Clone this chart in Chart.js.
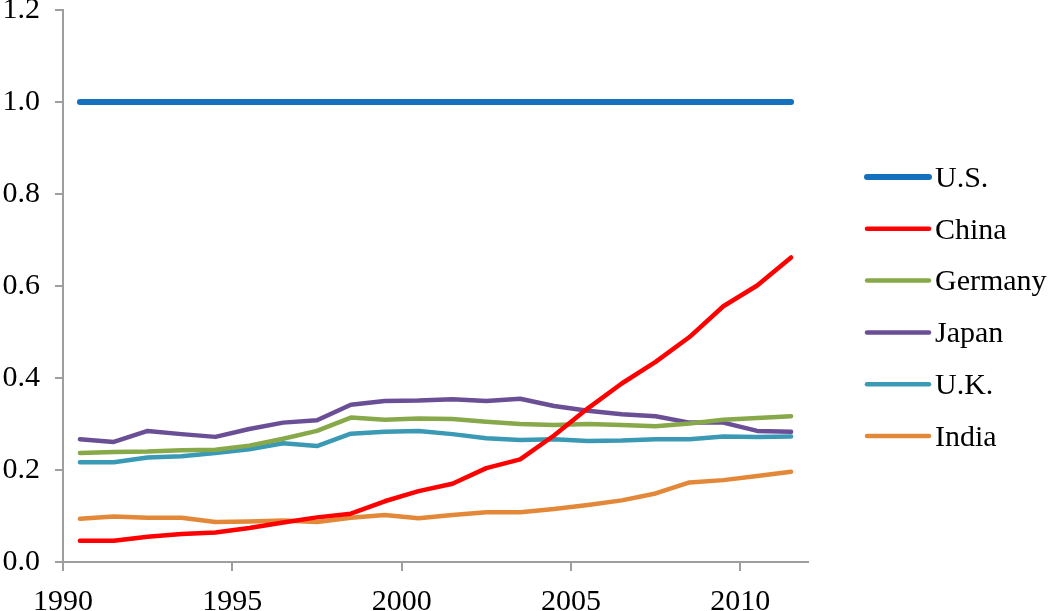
<!DOCTYPE html>
<html>
<head>
<meta charset="utf-8">
<script src="https://cdn.jsdelivr.net/npm/chart.js@4/dist/chart.umd.min.js"></script>
<style>
  html, body { margin: 0; padding: 0; background: #fff; }
  #wrap { position: relative; width: 1050px; height: 611px; }
</style>
</head>
<body>
<div id="wrap"><canvas id="chart"></canvas></div>
<script>
const years = [1990, 1991, 1992, 1993, 1994, 1995, 1996, 1997, 1998, 1999, 2000,
  2001, 2002, 2003, 2004, 2005, 2006, 2007, 2008, 2009, 2010, 2011];

const usValues = [1, 1, 1, 1, 1, 1, 1, 1, 1, 1, 1, 1, 1, 1, 1, 1, 1, 1, 1, 1, 1, 1];
const chinaValues = [0.046, 0.046, 0.055, 0.061, 0.064, 0.074, 0.086, 0.097, 0.105, 0.132, 0.154,
  0.170, 0.204, 0.223, 0.275, 0.334, 0.388, 0.435, 0.489, 0.556, 0.601, 0.662];
const germanyValues = [0.237, 0.239, 0.240, 0.243, 0.244, 0.253, 0.268, 0.285, 0.314, 0.309, 0.312,
  0.311, 0.305, 0.300, 0.298, 0.300, 0.298, 0.295, 0.301, 0.309, 0.313, 0.317];
const japanValues = [0.267, 0.261, 0.285, 0.278, 0.272, 0.289, 0.303, 0.308, 0.342, 0.350, 0.351,
  0.354, 0.350, 0.355, 0.339, 0.329, 0.321, 0.317, 0.303, 0.303, 0.285, 0.283];
const ukValues = [0.217, 0.217, 0.227, 0.230, 0.237, 0.245, 0.258, 0.252, 0.279, 0.283, 0.285,
  0.278, 0.269, 0.265, 0.267, 0.263, 0.264, 0.267, 0.267, 0.273, 0.272, 0.273];
const indiaValues = [0.094, 0.099, 0.096, 0.096, 0.087, 0.088, 0.090, 0.087, 0.096, 0.102, 0.095,
  0.102, 0.108, 0.108, 0.115, 0.124, 0.134, 0.149, 0.173, 0.178, 0.187, 0.196];

const seriesNames = ["U.S.", "China", "Germany", "Japan", "U.K.", "India"];
const seriesValues = [usValues, chinaValues, germanyValues, japanValues, ukValues, indiaValues];
const seriesColors = ["#1570BE", "#FF0000", "#88A94A", "#6B4F96", "#3A9AB5", "#E38838"];
const seriesWidths = [6, 4.5, 4.5, 4.5, 4.5, 4.5];

const xTicks = [1990, 1995, 2000, 2005, 2010];
const yTicks = [0, 0.2, 0.4, 0.6, 0.8, 1.0, 1.2];

const FONT = { family: "'Liberation Serif', 'Times New Roman', serif", size: 30 };
const AXIS_GREY = "#9E9E9E";

// each annual value is plotted in the middle of its year
function toPoints(values) {
  return values.map((v, i) => ({ x: years[i] + 0.5, y: v }));
}

const datasets = seriesNames.map((name, i) => ({
  label: name,
  data: toPoints(seriesValues[i]),
  borderColor: seriesColors[i],
  backgroundColor: seriesColors[i],
  borderWidth: seriesWidths[i],
  borderCapStyle: "round",
  borderJoinStyle: "round",
  pointRadius: 0,
  tension: 0,
  fill: false
}));

const sideLegend = {
  id: "sideLegend",
  afterDraw(chart) {
    const ctx = chart.ctx;
    ctx.save();
    ctx.font = `${FONT.size}px ${FONT.family}`;
    ctx.fillStyle = "#000";
    ctx.textBaseline = "middle";
    ctx.lineCap = "round";
    chart.data.datasets.forEach((ds, i) => {
      const y = 177 + i * 51.8;
      ctx.strokeStyle = ds.borderColor;
      ctx.lineWidth = ds.borderWidth;
      ctx.beginPath();
      ctx.moveTo(867, y);
      ctx.lineTo(929, y);
      ctx.stroke();
      ctx.fillText(ds.label, 935, y + 2);
    });
    ctx.restore();
  }
};

new Chart(document.getElementById("chart"), {
  type: "line",
  data: { datasets },
  plugins: [sideLegend],
  options: {
    responsive: true,
    maintainAspectRatio: false,
    animation: false,
    devicePixelRatio: 1,
    layout: { padding: { top: 10, right: 242, bottom: 0, left: 0 } },
    plugins: {
      legend: { display: false },
      tooltip: { enabled: false }
    },
    scales: {
      x: {
        type: "linear",
        min: 1990,
        max: 2012,
        afterBuildTicks: s => { s.ticks = xTicks.map(v => ({ value: v })); },
        afterFit: s => { s.height = 49; s.paddingLeft = 0; s.paddingRight = 0; },
        ticks: {
          color: "#000",
          font: FONT,
          padding: 13,
          maxRotation: 0,
          callback: v => String(v)
        },
        grid: { drawOnChartArea: false, color: AXIS_GREY, lineWidth: 2, tickLength: 9 },
        border: { color: AXIS_GREY, width: 2 }
      },
      y: {
        min: 0,
        max: 1.2,
        afterBuildTicks: s => { s.ticks = yTicks.map(v => ({ value: v })); },
        afterFit: s => { s.width = 63; s.paddingTop = 0; s.paddingBottom = 0; },
        ticks: {
          color: "#000",
          font: FONT,
          padding: 15,
          callback: v => Number(v).toFixed(1)
        },
        grid: { drawOnChartArea: false, color: AXIS_GREY, lineWidth: 2, tickLength: 8 },
        border: { color: AXIS_GREY, width: 2 }
      }
    }
  }
});
</script>
</body>
</html>
